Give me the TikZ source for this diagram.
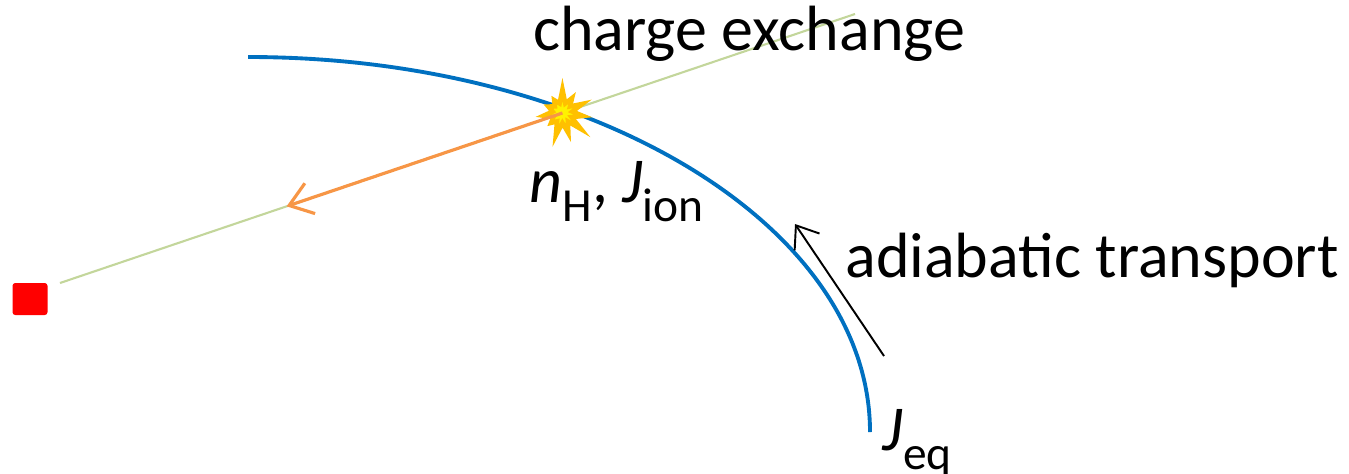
\documentclass[tikz,border=0pt]{standalone}
\usepackage{fontspec}
\setmainfont{Carlito}
\usetikzlibrary{arrows.meta,calc,shapes.symbols}
\definecolor{orbitblue}{HTML}{0070C0}
\definecolor{losgreen}{HTML}{C3D69B}
\definecolor{enaorange}{HTML}{F79646}
\definecolor{flashgold}{HTML}{FFC000}
\newcommand{\lowsub}[1]{\raisebox{-0.3em}{\fontsize{13.5}{15}\selectfont #1}}

\begin{document}
\begin{tikzpicture}[
  label/.style={font=\fontsize{18.2}{21}\selectfont, inner sep=0pt},
  orbit/.style={orbitblue, line width=1.1pt},
  sightline/.style={losgreen, line width=0.6pt},
  enaarrow/.style={-{Straight Barb[length=2.2mm,width=3.2mm]}, enaorange, line width=0.9pt},
  driftarrow/.style={-{Straight Barb[length=2mm,width=3mm]}, black, line width=0.55pt},
  flash/.style={starburst, starburst points=11, starburst point height=0.15cm, random starburst=7,
    fill=yellow, draw=flashgold, line width=1.3pt, minimum size=0.5cm, inner sep=0pt},
  detector/.style={rectangle, rounded corners=0.8pt, fill=red, minimum width=0.35cm, minimum height=0.32cm, inner sep=0pt}
]
  \useasboundingbox (0,0) rectangle (13.49,-4.73);

  \coordinate (los0) at (0.60,-2.83);
  \coordinate (los1) at (8.55,-0.14);
  \coordinate (orbtop) at (2.48,-0.57);
  \coordinate (ena) at ($(los0)!0.285!(los1)$);
  \coordinate (drift0) at (8.84,-3.56);
  \coordinate (drift1) at (7.95,-2.24);

  \node[detector] (det) at (0.30,-2.99) {};

  % line of sight and orbit
  \draw[sightline] (los0) -- (los1);
  \draw[orbit] (orbtop) arc[start angle=90, end angle=0, x radius=6.22, y radius=3.75] coordinate (orbend);
  \node[flash] (cx) at ($(los0)!0.632!(los1)$) {};
  \draw[enaarrow] (cx.center) -- (ena);
  \draw[driftarrow] (drift0) -- (drift1);

  \node[label, anchor=base] (cxlabel) at (7.49,-0.50) {charge exchange};
  \node[label, anchor=base] (adlabel) at (10.92,-2.77) {adiabatic transport};
  \node[label, anchor=base west] (ionlabel) at (5.29,-2.02) {\textit{n}\lowsub{H}, \textit{J}\lowsub{ion}};
  \node[label, anchor=base west] (eqlabel) at (8.82,-4.50) {\textit{J}\lowsub{eq}};
\end{tikzpicture}
\end{document}
